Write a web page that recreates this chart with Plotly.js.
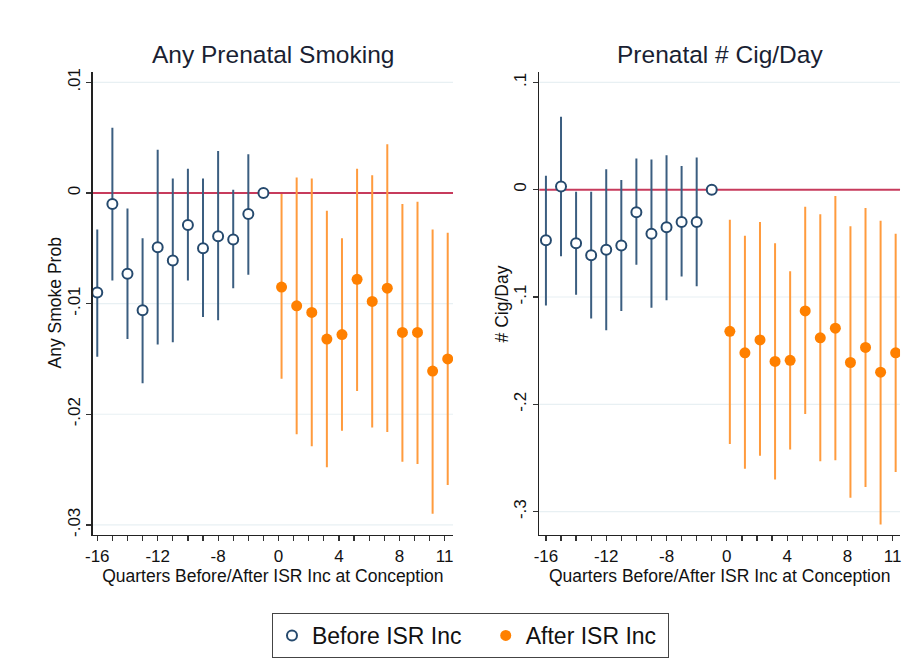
<!DOCTYPE html>
<html>
<head>
<meta charset="utf-8">
<script src="https://cdn.plot.ly/plotly-3.0.1.min.js"></script>
<style>html,body{margin:0;padding:0;background:#fff;}#chart{width:920px;height:658px;}</style>
</head>
<body>
<div id="chart"></div>
<script>
// Axis positions (one per quarter slot) and their labels
const tickLabels = ['-16','','','','-12','','','','-8','','','','0','','','','4','','','','8','','','11'];
const beforePos = [0,1,2,3,4,5,6,7,8,9,10,11];
const afterPos  = [12,13,14,15,16,17,18,19,20,21,22,23];

// Any prenatal smoking (probability)
const smokeBefore   = [-0.0090,-0.0010,-0.0073,-0.0106,-0.0049,-0.0061,-0.0029,-0.0050,-0.0039,-0.0042,-0.0019,0];
const smokeBeforeHi = [-0.0033,0.0059,-0.0014,-0.0041,0.0039,0.0013,0.0022,0.0013,0.0038,0.0003,0.0035,null];
const smokeBeforeLo = [-0.0148,-0.0079,-0.0132,-0.0172,-0.0137,-0.0135,-0.0079,-0.0112,-0.0115,-0.0086,-0.0074,null];
const smokeAfter    = [-0.0085,-0.0102,-0.0108,-0.0132,-0.0128,-0.0078,-0.0098,-0.0086,-0.0126,-0.0126,-0.0161,-0.0150];
const smokeAfterHi  = [-0.0001,0.0014,0.0013,-0.0016,-0.0041,0.0022,0.0016,0.0044,-0.0010,-0.0008,-0.0033,-0.0036];
const smokeAfterLo  = [-0.0168,-0.0218,-0.0229,-0.0248,-0.0215,-0.0179,-0.0212,-0.0216,-0.0243,-0.0245,-0.0290,-0.0264];

// Prenatal cigarettes per day
const cigBefore   = [-0.047,0.003,-0.050,-0.061,-0.056,-0.052,-0.021,-0.041,-0.035,-0.030,-0.030,0];
const cigBeforeHi = [0.013,0.068,-0.002,-0.002,0.019,0.009,0.029,0.028,0.032,0.022,0.030,null];
const cigBeforeLo = [-0.108,-0.062,-0.098,-0.120,-0.131,-0.113,-0.070,-0.110,-0.103,-0.081,-0.090,null];
const cigAfter    = [-0.132,-0.152,-0.140,-0.160,-0.159,-0.113,-0.138,-0.129,-0.161,-0.147,-0.170,-0.152];
const cigAfterHi  = [-0.028,-0.043,-0.030,-0.050,-0.076,-0.016,-0.023,-0.006,-0.034,-0.017,-0.029,-0.041];
const cigAfterLo  = [-0.237,-0.260,-0.248,-0.270,-0.242,-0.209,-0.253,-0.252,-0.287,-0.277,-0.312,-0.263];

const yTicksL = [-0.03,-0.02,-0.01,0,0.01];
const yTextL  = ['-.03','-.02','-.01','0','.01'];
const yTicksR = [-0.3,-0.2,-0.1,0,0.1];
const yTextR  = ['-.3','-.2','-.1','0','.1'];

const NAVY = '#264a6e', NAVYBAR = '#3b5e80', ORANGE = '#ff8000', ORANGEBAR = '#ff9b3d', REFLINE = '#c73b5c', GRID = '#e8f0f3';
const afterShift = 0.2;

function errs(y, hi, lo) {
  return {
    plus: y.map((v,i) => hi[i] == null ? 0 : hi[i] - v),
    minus: y.map((v,i) => lo[i] == null ? 0 : v - lo[i])
  };
}

function pair(y, hi, lo, yA, hiA, loA, xa, ya, showLeg) {
  const eb = errs(y, hi, lo), ea = errs(yA, hiA, loA);
  return [
    {type:'scatter', mode:'markers', x: beforePos, y: y, xaxis: xa, yaxis: ya,
     name:'Before ISR Inc\u00a0\u00a0\u00a0', legendgroup:'b', showlegend: showLeg,
     marker:{symbol:'circle', size:10, color:'#ffffff', line:{color:NAVY, width:2}},
     error_y:{type:'data', symmetric:false, array: eb.plus, arrayminus: eb.minus, color:NAVYBAR, thickness:2, width:0},
     hoverinfo:'skip'},
    {type:'scatter', mode:'markers', x: afterPos.map(p => p + afterShift), y: yA, xaxis: xa, yaxis: ya,
     name:'After ISR Inc\u00a0', legendgroup:'a', showlegend: showLeg,
     marker:{symbol:'circle', size:11, color:ORANGE},
     error_y:{type:'data', symmetric:false, array: ea.plus, arrayminus: ea.minus, color:ORANGEBAR, thickness:2, width:0},
     hoverinfo:'skip'}
  ];
}

const data = [
  ...pair(smokeBefore, smokeBeforeHi, smokeBeforeLo, smokeAfter, smokeAfterHi, smokeAfterLo, 'x', 'y', true),
  ...pair(cigBefore, cigBeforeHi, cigBeforeLo, cigAfter, cigAfterHi, cigAfterLo, 'x2', 'y2', false)
];

const FONT = 'Liberation Sans, Arial, Helvetica, sans-serif';
const tickPos = tickLabels.map((_, i) => i);

function xax(domain, range, anchor) {
  return {domain, range, anchor, tickmode:'array', tickvals: tickPos, ticktext: tickLabels,
    ticks:'outside', ticklen:5, tickwidth:1.2, tickcolor:'#333', showline:true, linecolor:'#222', linewidth:1.3,
    showgrid:false, zeroline:false, tickfont:{size:17, color:'#111'},
    title:{text:'Quarters Before/After ISR Inc at Conception', font:{size:17.5, color:'#111'}, standoff:2}};
}
function yax(domain, range, anchor, vals, text) {
  return {domain, range, anchor, tickmode:'array', tickvals: vals, ticktext: text, tickangle:-90,
    ticks:'outside', ticklen:5, tickwidth:1.2, tickcolor:'#333', showline:true, linecolor:'#222', linewidth:1.3,
    showgrid:false, zeroline:false, tickfont:{size:17, color:'#111'}};
}

// gridlines (non-zero ticks) and red reference line at zero, drawn beneath the markers
function hline(xa, ya, v, color, width) {
  return {type:'line', xref: xa + ' domain', yref: ya, x0:0, x1:1, y0:v, y1:v, layer:'below', line:{color, width}};
}
const shapes = [
  ...yTicksL.filter(v => v !== 0).map(v => hline('x', 'y', v, GRID, 1.2)),
  ...yTicksR.filter(v => v !== 0).map(v => hline('x2', 'y2', v, GRID, 1.2)),
  hline('x', 'y', 0, REFLINE, 2),
  hline('x2', 'y2', 0, REFLINE, 2)
];

const yMid = (0.1854 + 0.891) / 2;
const layout = {
  width:920, height:658, margin:{l:0,r:0,t:0,b:0}, paper_bgcolor:'#fff', plot_bgcolor:'#fff',
  font:{family:FONT, color:'#111'},
  xaxis: xax([0.1008,0.4924], [-0.3,23.55], 'y'),
  yaxis: yax([0.1854,0.891], [-0.03093,0.01097], 'x', yTicksL, yTextL),
  xaxis2: xax([0.5862,0.9783], [-0.44,23.49], 'y2'),
  yaxis2: yax([0.1854,0.891], [-0.3219,0.110], 'x2', yTicksR, yTextR),
  shapes: shapes,
  annotations:[
    {text:'Any Prenatal Smoking', xref:'paper', yref:'paper', x:0.2966, y:0.9164, xanchor:'center', yanchor:'middle', showarrow:false, font:{size:24.5, color:'#1a1f33'}},
    {text:'Prenatal # Cig/Day', xref:'paper', yref:'paper', x:0.7823, y:0.9164, xanchor:'center', yanchor:'middle', showarrow:false, font:{size:24.5, color:'#1a1f33'}},
    {text:'Any Smoke Prob', xref:'paper', yref:'paper', x:55/920, y:yMid, xanchor:'center', yanchor:'middle', textangle:-90, showarrow:false, font:{size:17.5, color:'#111'}},
    {text:'# Cig/Day', xref:'paper', yref:'paper', x:502/920, y:yMid, xanchor:'center', yanchor:'middle', textangle:-90, showarrow:false, font:{size:17.5, color:'#111'}}
  ],
  legend:{orientation:'h', x:0.5114, xanchor:'center', y:0.0669, yanchor:'top', bordercolor:'#444', borderwidth:1,
    font:{size:23, color:'#111'}, bgcolor:'#fff'},
  showlegend:true
};

Plotly.newPlot('chart', data, layout, {staticPlot:true, displayModeBar:false});
</script>
</body>
</html>
